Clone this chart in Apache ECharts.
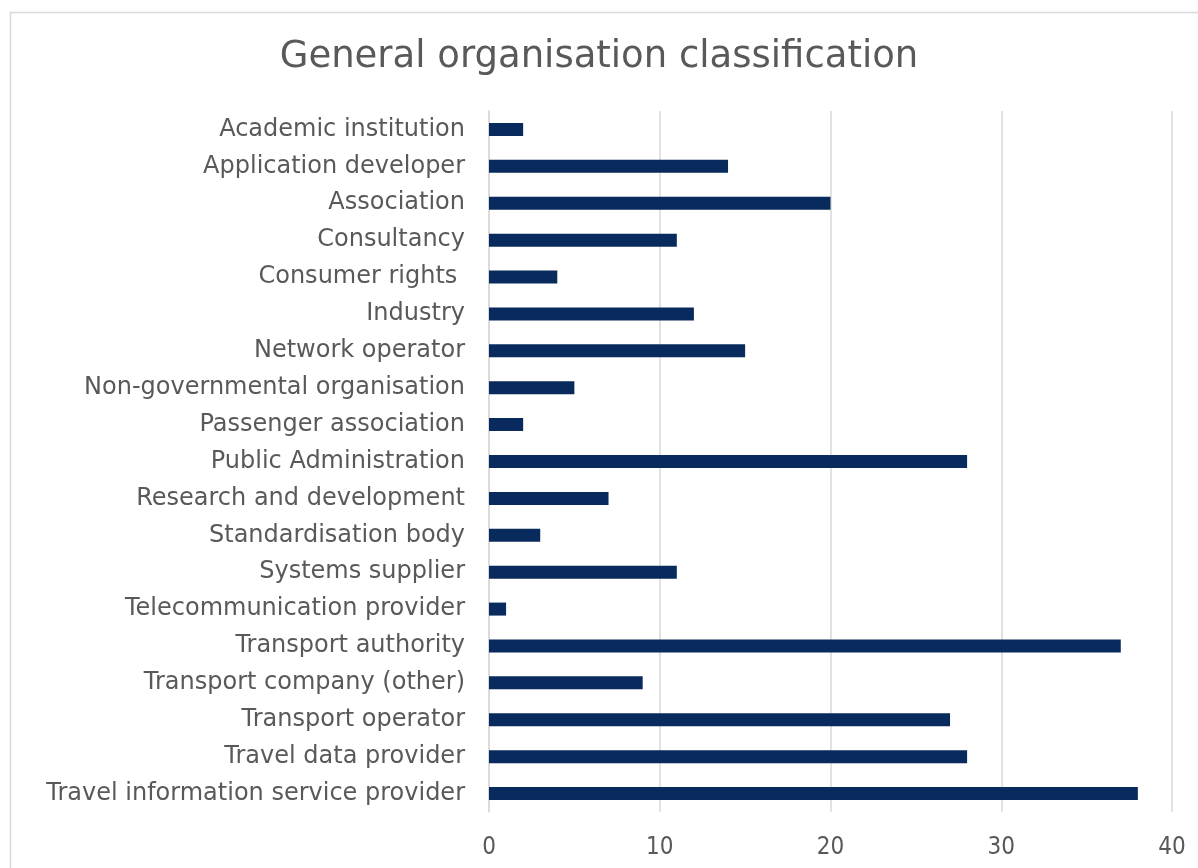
<!DOCTYPE html>
<html>
<head>
<meta charset="utf-8">
<style>
  html, body { margin: 0; padding: 0; background: #fff; }
  #chart { width: 1198px; height: 868px; }
</style>
<script src="https://cdn.jsdelivr.net/npm/echarts@6/dist/echarts.min.js"></script>
</head>
<body>
<div id="chart"></div>
<script>
// categories, top to bottom
const categories = [
  'Academic institution',
  'Application developer',
  'Association',
  'Consultancy',
  'Consumer rights ',
  'Industry',
  'Network operator',
  'Non-governmental organisation',
  'Passenger association',
  'Public Administration',
  'Research and development',
  'Standardisation body',
  'Systems supplier',
  'Telecommunication provider',
  'Transport authority',
  'Transport company (other)',
  'Transport operator',
  'Travel data provider',
  'Travel information service provider'
]

const counts = [2, 14, 20, 11, 4, 12, 15, 5, 2, 28, 7, 3, 11, 1, 37, 9, 27, 28, 38]

const xTicks = [0, 10, 20, 30, 40]

const chart = echarts.init(document.getElementById('chart'))

chart.setOption({
  animation: false,
  title: {
    text: 'General organisation classification',
    left: 'center',
    top: 34,
    textStyle: {
      fontFamily: 'DejaVu Sans',
      fontSize: 37,
      fontWeight: 'normal',
      color: '#595959'
    }
  },
  // outer chart border, runs off the right and bottom edges
  graphic: [{
    type: 'rect',
    shape: { x: 10.5, y: 12.5, width: 1300, height: 1000 },
    style: { fill: 'none', stroke: '#d9d9d9', lineWidth: 1.5 },
    silent: true
  }],
  grid: { left: 489, right: 26, top: 111, bottom: 56 },
  xAxis: {
    type: 'value',
    min: xTicks[0],
    max: xTicks[xTicks.length - 1],
    interval: 10,
    axisLine: { show: false },
    axisTick: { show: false },
    splitLine: { lineStyle: { color: '#d9d9d9', width: 1.5 } },
    axisLabel: {
      margin: 24,
      fontFamily: 'DejaVu Sans Condensed',
      fontSize: 24,
      color: '#595959'
    }
  },
  yAxis: {
    type: 'category',
    inverse: true,
    data: categories,
    axisLine: { show: true, lineStyle: { color: '#d9d9d9', width: 1.5 } },
    axisTick: { show: false },
    axisLabel: {
      margin: 24,
      fontFamily: 'DejaVu Sans',
      fontSize: 24,
      color: '#595959'
    }
  },
  series: [{
    type: 'bar',
    data: counts,
    barWidth: 13,
    itemStyle: { color: '#082a5c' }
  }]
})
</script>
</body>
</html>
